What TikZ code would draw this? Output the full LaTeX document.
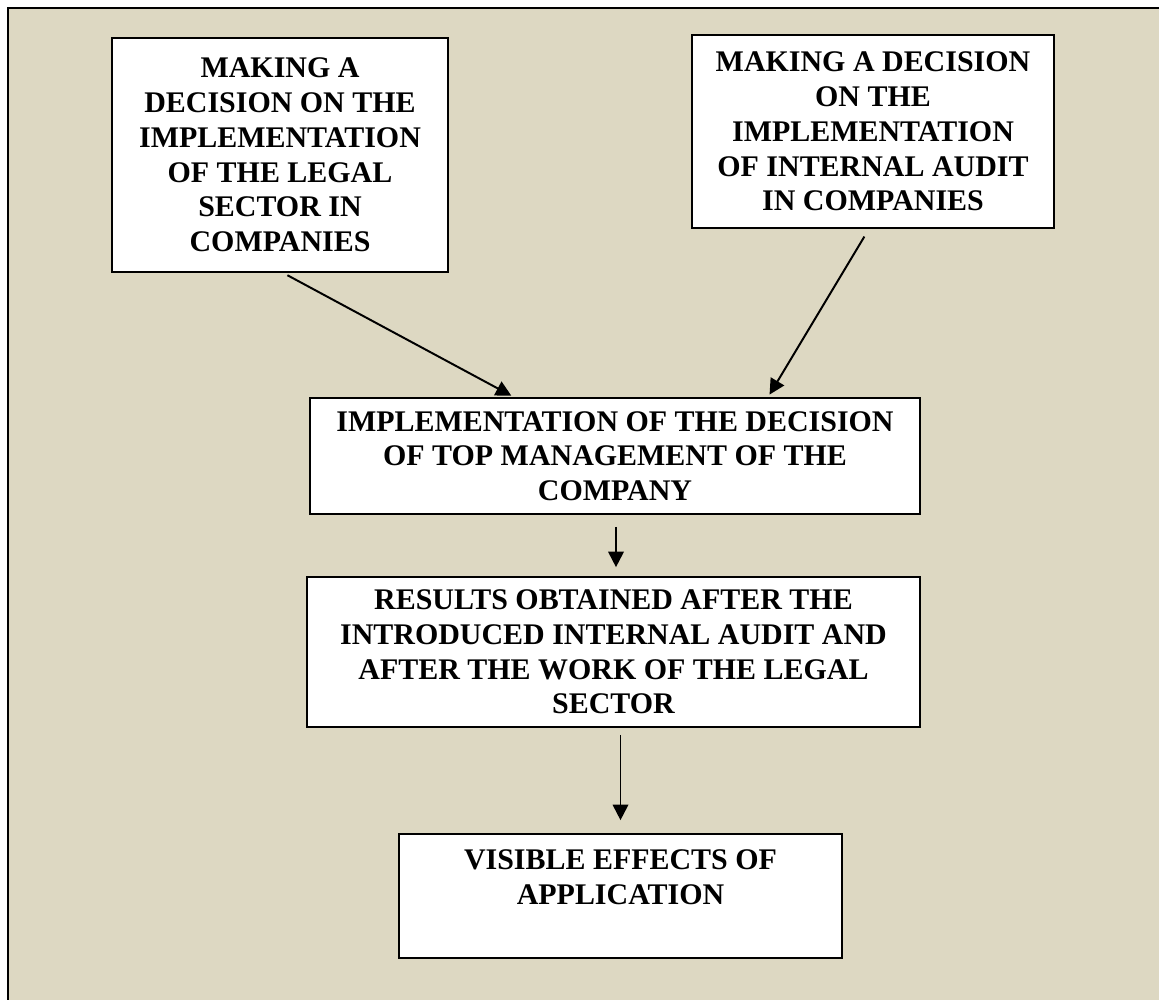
\documentclass[tikz,border=0pt]{standalone}
\usepackage{fontspec}
\setmainfont{Liberation Serif}
\usetikzlibrary{arrows.meta}
\definecolor{panelbg}{RGB}{221,216,194}
\newcommand{\px}{0.025cm}

\begin{document}
\begin{tikzpicture}[x=0.025cm, y=-0.025cm,
  box/.style={draw, fill=white, line width=1.2pt, align=center, inner sep=0pt,
    font=\fontsize{21.3}{24.7}\selectfont\bfseries},
  arr/.style={-{Triangle[length=11pt, width=11pt]}, line width=1.4pt}]
% Background
\useasboundingbox (0,0) rectangle (1159,1000);
\fill[white] (0,0) rectangle (1159,1000);
\draw[fill=panelbg, line width=1.8pt] (8,8) rectangle (1180,1020);

% Nodes
\node[box, minimum width=336*\px, minimum height=234*\px] (legal) at (280,155)
  {MAKING A\\DECISION ON THE\\IMPLEMENTATION\\OF THE LEGAL\\SECTOR IN\\COMPANIES};
\node[box, minimum width=362*\px, minimum height=193*\px] (audit) at (873,131.5)
  {MAKING A DECISION\\ON THE\\IMPLEMENTATION\\OF INTERNAL AUDIT\\IN COMPANIES};
\node[box, minimum width=610*\px, minimum height=116*\px] (impl) at (615,456)
  {IMPLEMENTATION OF THE DECISION\\OF TOP MANAGEMENT OF THE\\COMPANY};
\node[box, minimum width=613*\px, minimum height=150*\px] (res) at (613.5,652)
  {RESULTS OBTAINED AFTER THE\\INTRODUCED INTERNAL AUDIT AND\\AFTER THE WORK OF THE LEGAL\\SECTOR};
\node[box, minimum width=443*\px, minimum height=124*\px] (effects) at (620.5,896)
  {\parbox[c][88pt][t]{310pt}{\centering\vspace{11pt}VISIBLE EFFECTS OF\\APPLICATION}};

% Arrows
\draw[arr, shorten <=5*\px, shorten >=3*\px] ([xshift=3*\px]legal.south) -- ([xshift=-101*\px]impl.north);
\draw[arr, shorten <=9*\px, shorten >=3*\px] ([xshift=-4*\px]audit.south) -- ([xshift=153*\px]impl.north);
\draw[arr, shorten <=12*\px, shorten >=9*\px] ([xshift=1*\px]impl.south) -- ([xshift=1*\px]impl.south |- res.north);
\draw[arr, shorten <=7*\px, shorten >=13*\px] (effects.north |- res.south) -- (effects.north);
\end{tikzpicture}
\end{document}
